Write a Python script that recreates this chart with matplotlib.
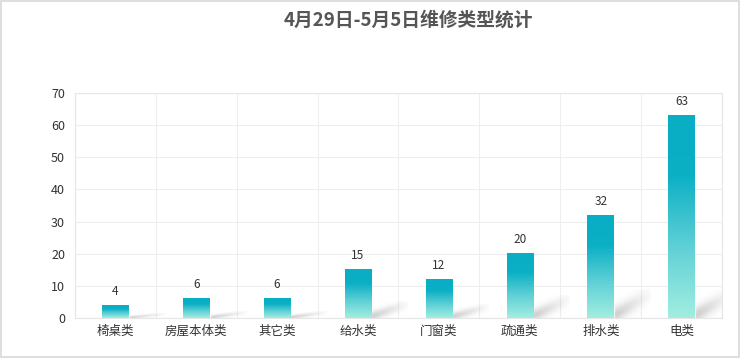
import numpy as np
import matplotlib.pyplot as plt
from matplotlib.colors import LinearSegmentedColormap
from matplotlib.patches import Rectangle

plt.rcParams['font.family'] = ['Noto Sans CJK SC', 'DejaVu Sans']

categories = ['椅桌类', '房屋本体类', '其它类', '给水类', '门窗类', '疏通类', '排水类', '电类']
values = [4, 6, 6, 15, 12, 20, 32, 63]
yticks = [0, 10, 20, 30, 40, 50, 60, 70]
title = '4月29日-5月5日维修类型统计'

bar_cmap = LinearSegmentedColormap.from_list(
    'bar', [(0.0, '#a2eee0'), (0.35, '#5fd0d6'), (0.7, '#0cb0c5'), (1.0, '#09adc4')])

fig = plt.figure(figsize=(7.4, 3.58), dpi=100)
ax = fig.add_axes([0.101, 0.112, 0.875, 0.628])

n = len(categories)
bw = 0.33

grad = np.linspace(0, 1, 256).reshape(-1, 1)
for i, v in enumerate(values):
    cx = i + 0.5
    # soft shadow at the bar foot
    sw, sh = 0.45, min(v * 0.35, 9)
    if sh > 0.5:
        u, w = np.meshgrid(np.linspace(0, 1, 120), np.linspace(0, 1, 60))
        band = np.exp(-((w - 0.75 * u - 0.08) / 0.28) ** 2) * np.clip(1.1 - u, 0, 1) * (u > 0.02)
        rgba = np.zeros((60, 120, 4))
        rgba[..., :3] = 0.55
        rgba[..., 3] = band * 0.4
        ax.imshow(rgba, extent=(cx + bw / 2, cx + bw / 2 + sw, 0, sh),
                  origin='lower', aspect='auto', zorder=2, interpolation='bilinear')
    ax.imshow(grad, extent=(cx - bw / 2, cx + bw / 2, 0, v), origin='lower',
              cmap=bar_cmap, aspect='auto', zorder=3, vmin=0, vmax=1)
    ax.text(cx, v + 4.3, str(v), ha='center', va='center', fontsize=8.5, color='#333333', zorder=4)

ax.set_xlim(0, n)
ax.set_ylim(0, 70)
ax.set_yticks(yticks)
ax.set_xticks(np.arange(n) + 0.5)
ax.set_xticklabels(categories)
ax.set_xticks(np.arange(n + 1), minor=True)
ax.grid(True, which='minor', axis='x', color='#eeeeee', linewidth=0.8)
ax.grid(True, which='major', axis='y', color='#eeeeee', linewidth=0.8)
ax.tick_params(axis='both', which='both', length=0, colors='#333333', labelsize=9)
ax.tick_params(axis='x', pad=5)
ax.tick_params(axis='y', pad=7)
for s in ax.spines.values():
    s.set_color('#e6e6e6')
    s.set_linewidth(0.8)
ax.set_axisbelow(True)

fig.text(0.552, 0.945, title, ha='center', va='center', fontsize=13.5,
         fontweight='bold', color='#555555')
fig.patches.append(Rectangle((0.001, 0.002), 0.997, 0.995, transform=fig.transFigure,
                             fill=False, edgecolor='#d8d8d8', linewidth=1.2))

fig.savefig('out.png', dpi=100)
